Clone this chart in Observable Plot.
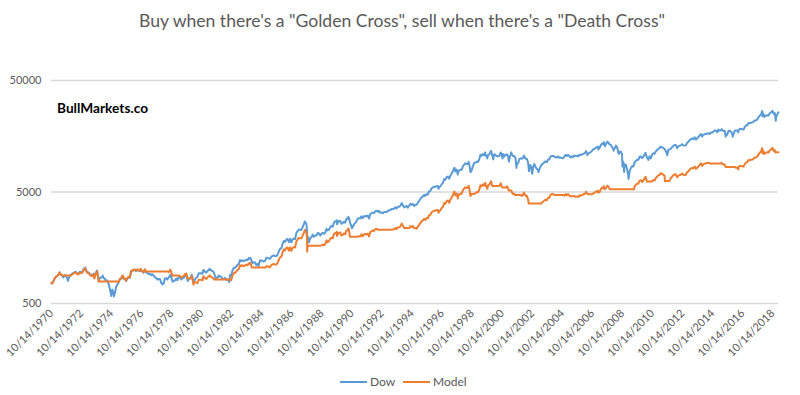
<!DOCTYPE html>
<html>
<head>
<meta charset="utf-8">
<script src="https://cdn.jsdelivr.net/npm/d3@7"></script>
<script src="https://cdn.jsdelivr.net/npm/@observablehq/plot@0.6"></script>
<style>
  html, body { margin: 0; padding: 0; background: #fff; }
  #chart { position: relative; width: 800px; height: 395px; }
</style>
</head>
<body>
<div id="chart"></div>
<script>
// ---------------- DATA ----------------
const titleText = "Buy when there's a \"Golden Cross\", sell when there's a \"Death Cross\"";
const watermark = "BullMarkets.co";
const seriesNames = ["Dow", "Model"];
const seriesColors = ["#5B9BD5", "#ED7D31"];
const yTicks = [500, 5000, 50000];
const yTickLabels = ["500", "5000", "50000"];
const xTickLabels = ["10/14/1970","10/14/1972","10/14/1974","10/14/1976","10/14/1978","10/14/1980",
  "10/14/1982","10/14/1984","10/14/1986","10/14/1988","10/14/1990","10/14/1992","10/14/1994",
  "10/14/1996","10/14/1998","10/14/2000","10/14/2002","10/14/2004","10/14/2006","10/14/2008",
  "10/14/2010","10/14/2012","10/14/2014","10/14/2016","10/14/2018"];
const xDomain = ["1970-10-14", "2019-02-28"];

// Dow: month-end closes [year, first month, values]
const dowMonthEnd = [
  [1970,10,[755,794,839]],
  [1971,1,[869,879,904,942,908,891,858,898,887,839,831,890]],
  [1972,1,[902,928,941,954,961,929,925,964,953,956,1018,1020]],
  [1973,1,[999,955,951,921,901,892,926,888,947,957,822,851]],
  [1974,1,[856,861,847,837,802,802,757,679,608,666,619,616]],
  [1975,1,[704,739,768,821,832,879,832,835,794,836,860,852]],
  [1976,1,[975,973,1000,997,975,1003,985,974,990,965,947,1005]],
  [1977,1,[955,936,919,927,899,916,890,862,847,818,830,831]],
  [1978,1,[770,742,757,837,841,819,862,877,866,793,799,805]],
  [1979,1,[839,809,862,855,822,842,846,888,878,816,822,839]],
  [1980,1,[876,863,786,817,851,868,935,933,932,925,993,964]],
  [1981,1,[947,975,1004,998,992,977,953,882,850,853,889,875]],
  [1982,1,[871,824,823,848,820,812,809,901,896,992,1039,1047]],
  [1983,1,[1076,1113,1130,1226,1200,1222,1199,1216,1233,1225,1276,1259]],
  [1984,1,[1221,1155,1165,1171,1105,1132,1115,1224,1207,1207,1189,1212]],
  [1985,1,[1287,1284,1267,1258,1316,1336,1348,1334,1329,1375,1472,1547]],
  [1986,1,[1571,1710,1819,1784,1877,1893,1775,1898,1768,1878,1914,1896]],
  [1987,1,[2158,2224,2305,2286,2292,2419,2572,2663,2596,1994,1834,1939]],
  [1988,1,[1958,2072,1988,2032,2031,2142,2129,2032,2112,2149,2115,2169]],
  [1989,1,[2342,2258,2294,2419,2480,2440,2661,2737,2693,2645,2748,2753]],
  [1990,1,[2591,2627,2707,2657,2877,2881,2905,2614,2453,2442,2560,2634]],
  [1991,1,[2736,2882,2914,2888,3028,2907,3025,3044,3017,3069,2895,3169]],
  [1992,1,[3223,3268,3236,3359,3397,3319,3394,3257,3272,3226,3305,3301]],
  [1993,1,[3310,3370,3435,3428,3527,3516,3540,3651,3555,3681,3684,3754]],
  [1994,1,[3978,3832,3636,3682,3758,3625,3765,3913,3843,3908,3739,3834]],
  [1995,1,[3844,4011,4158,4321,4465,4556,4709,4611,4789,4756,5075,5117]],
  [1996,1,[5395,5486,5588,5569,5643,5655,5529,5616,5882,6029,6522,6448]],
  [1997,1,[6813,6878,6584,7009,7331,7673,8223,7622,7945,7442,7823,7908]],
  [1998,1,[7907,8546,8800,9063,8900,8952,8883,7539,7843,8592,9117,9181]],
  [1999,1,[9359,9307,9786,10789,10560,10971,10655,10829,10337,10729,10878,11497]],
  [2000,1,[10941,10128,10922,10734,10522,10448,10522,11215,10651,10971,10415,10787]],
  [2001,1,[10887,10495,9879,10735,10912,10502,10523,9950,8848,9075,9852,10022]],
  [2002,1,[9920,10106,10404,9946,9925,9243,8737,8664,7592,8397,8896,8342]],
  [2003,1,[8054,7891,7992,8480,8850,8985,9234,9416,9275,9801,9782,10454]],
  [2004,1,[10488,10584,10358,10226,10188,10435,10140,10174,10080,10027,10428,10783]],
  [2005,1,[10490,10766,10504,10193,10467,10275,10641,10482,10569,10440,10806,10718]],
  [2006,1,[10865,10993,11109,11367,11168,11150,11186,11381,11679,12081,12222,12463]],
  [2007,1,[12622,12269,12354,13063,13628,13409,13212,13358,13896,13930,13372,13265]],
  [2008,1,[12650,12266,12263,12820,12638,11350,11378,11544,10851,9325,8829,8776]],
  [2009,1,[8001,7063,7609,8168,8500,8447,9172,9496,9712,9713,10345,10428]],
  [2010,1,[10067,10325,10857,11009,10137,9774,10466,10015,10788,11118,11006,11578]],
  [2011,1,[11892,12226,12320,12811,12570,12414,12143,11614,10913,11955,12046,12218]],
  [2012,1,[12633,12952,13212,13214,12393,12880,13009,13091,13437,13096,13026,13104]],
  [2013,1,[13861,14054,14579,14840,15116,14910,15500,14810,15130,15546,16086,16577]],
  [2014,1,[15699,16322,16458,16581,16717,16827,16563,17098,17043,17391,17828,17823]],
  [2015,1,[17165,18133,17776,17841,18011,17620,17690,16528,16285,17664,17720,17425]],
  [2016,1,[16466,16517,17685,17774,17787,17930,18432,18401,18308,18142,19124,19763]],
  [2017,1,[19864,20812,20663,20941,21009,21350,21891,21948,22405,23377,24272,24719]],
  [2018,1,[26149,25029,24103,24163,24416,24271,25415,25965,26458,25116,25538,23327]],
  [2019,1,[24999,25916]]
];

// Dow: start and intra-month highs / lows
const dowExtra = [
  ["1970-10-14",765],["1971-04-28",951],["1971-11-23",798],["1973-01-11",1052],["1973-08-22",851],
  ["1973-10-26",988],["1973-12-05",788],["1974-03-13",892],["1974-10-04",585],["1974-12-06",578],
  ["1975-07-15",882],["1976-09-21",1015],["1978-02-28",742],["1978-09-08",907],["1978-11-14",785],
  ["1979-10-05",898],["1979-11-07",796],["1980-02-13",903],["1980-03-27",759],["1980-11-20",1000],
  ["1981-04-27",1024],["1981-09-25",824],["1982-08-12",777],["1984-01-06",1287],["1984-07-24",1087],
  ["1987-08-25",2722],["1987-10-16",2247],["1987-10-19",1739],["1987-12-04",1767],["1989-10-09",2791],
  ["1989-10-13",2569],["1990-07-16",2999],["1990-10-11",2365],["1996-07-16",5346],["1997-08-06",8259],
  ["1997-10-27",7161],["1998-07-17",9338],["1999-08-25",11326],["1999-10-15",10019],["2000-01-14",11723],
  ["2000-03-07",9796],["2000-09-06",11310],["2000-10-18",9975],["2001-03-22",9389],["2001-05-21",11337],
  ["2001-09-21",8236],["2002-03-19",10635],["2002-07-23",7702],["2002-10-09",7286],["2003-03-11",7524],
  ["2006-05-10",11642],["2006-06-13",10706],["2007-02-20",12786],["2007-03-05",12050],["2007-07-19",14000],
  ["2007-08-16",12846],["2007-10-09",14165],["2008-03-10",11740],["2008-05-02",13058],["2008-07-15",10963],
  ["2008-10-10",8451],["2008-11-20",7552],["2009-03-09",6547],["2010-04-26",11205],["2010-07-02",9686],
  ["2011-04-29",12811],["2011-10-03",10655],["2015-05-19",18312],["2015-08-25",15666],["2016-02-11",15660],
  ["2016-06-27",17140],["2018-01-26",26617],["2018-02-08",23860],["2018-03-23",23533],["2018-10-03",26828],
  ["2018-12-24",21792]
];

// Model (golden cross / death cross strategy equity)
const modelPoints = [
  ["1970-10-14",765],["1970-10-31",755],["1970-11-30",794],["1970-12-31",839],
  ["1971-01-31",869],["1971-02-28",879],["1971-03-31",904],["1971-04-28",950],["1971-04-30",942],["1971-05-31",908],["1971-06-30",891],["1971-07-20",890],
  ["1972-01-20",890],["1972-01-31",888],["1972-02-28",914],["1972-03-31",927],["1972-04-30",940],["1972-05-31",947],["1972-06-30",915],["1972-07-31",911],["1972-08-31",950],["1972-09-30",939],["1972-10-31",942],["1972-11-30",1003],["1972-12-31",1005],
  ["1973-01-11",1036],["1973-01-31",984],["1973-02-28",941],["1973-03-31",937],["1973-04-30",907],["1973-05-31",888],["1973-06-30",879],["1973-07-31",912],["1973-08-22",838],["1973-08-31",875],["1973-09-30",933],["1973-10-26",973],["1973-10-31",943],["1973-11-30",810],["1973-12-04",787],
  ["1975-03-10",787],["1975-03-31",776],["1975-04-30",829],["1975-05-31",840],["1975-06-30",888],["1975-07-15",891],["1975-07-31",840],["1975-08-31",843],["1975-09-30",802],["1975-10-31",844],["1975-11-30",869],["1975-12-31",860],
  ["1976-01-31",985],["1976-02-28",983],["1976-03-31",1010],["1976-04-30",1007],["1976-05-31",985],["1976-06-30",1013],["1976-07-31",995],["1976-08-31",984],["1976-09-21",1025],["1976-09-30",1000],["1976-10-31",975],["1976-11-30",956],["1976-12-31",1015],
  ["1977-01-25",968],
  ["1978-07-20",968],["1978-07-31",959],["1978-08-31",976],["1978-09-08",1009],["1978-09-30",964],["1978-10-31",883],["1978-11-10",890],
  ["1979-04-01",890],["1979-04-30",885],["1979-05-31",851],["1979-06-30",871],["1979-07-31",876],["1979-08-31",919],["1979-09-30",909],["1979-10-05",929],["1979-10-31",845],["1979-11-05",840],
  ["1980-01-10",840],["1980-01-31",851],["1980-02-13",877],["1980-02-28",838],["1980-03-27",737],["1980-03-31",763],["1980-04-10",770],
  ["1980-06-20",770],["1980-06-30",760],["1980-07-31",818],["1980-08-31",816],["1980-09-30",816],["1980-10-31",809],["1980-11-20",875],["1980-11-30",869],["1980-12-31",844],
  ["1981-01-31",829],["1981-02-28",853],["1981-03-31",879],["1981-04-27",896],["1981-04-30",873],["1981-05-31",868],["1981-06-30",855],["1981-07-31",834],["1981-08-10",820],
  ["1982-09-01",820],["1982-09-30",807],["1982-10-31",894],["1982-11-30",936],["1982-12-31",943],
  ["1983-01-31",969],["1983-02-28",1003],["1983-03-31",1018],["1983-04-30",1105],["1983-05-31",1081],["1983-06-30",1101],["1983-07-31",1080],["1983-08-31",1096],["1983-09-30",1111],["1983-10-31",1104],["1983-11-30",1150],["1983-12-31",1134],
  ["1984-01-06",1160],["1984-01-31",1100],["1984-02-10",1050],
  ["1985-01-10",1050],["1985-01-31",1081],["1985-02-28",1079],["1985-03-31",1064],["1985-04-30",1057],["1985-05-31",1105],["1985-06-30",1122],["1985-07-31",1132],["1985-08-31",1121],["1985-09-30",1116],["1985-10-31",1155],["1985-11-30",1236],["1985-12-31",1299],
  ["1986-01-31",1320],["1986-02-28",1436],["1986-03-31",1528],["1986-04-30",1499],["1986-05-31",1577],["1986-06-30",1590],["1986-07-31",1491],["1986-08-31",1594],["1986-09-30",1485],["1986-10-31",1578],["1986-11-30",1608],["1986-12-31",1593],
  ["1987-01-31",1813],["1987-02-28",1868],["1987-03-31",1936],["1987-04-30",1920],["1987-05-31",1925],["1987-06-30",2032],["1987-07-31",2160],["1987-08-25",2286],["1987-08-31",2237],["1987-09-30",2181],["1987-10-16",1887],["1987-10-19",1461],["1987-10-30",1675],["1987-11-03",1650],
  ["1988-09-01",1650],["1988-09-30",1660],["1988-10-31",1689],["1988-11-30",1662],["1988-12-31",1705],
  ["1989-01-31",1841],["1989-02-28",1775],["1989-03-31",1803],["1989-04-30",1901],["1989-05-31",1949],["1989-06-30",1918],["1989-07-31",2092],["1989-08-31",2151],["1989-09-30",2117],["1989-10-09",2194],["1989-10-13",2019],["1989-10-31",2079],["1989-11-30",2160],["1989-12-31",2164],
  ["1990-01-31",2037],["1990-02-28",2065],["1990-03-31",2128],["1990-04-30",2088],["1990-05-31",2261],["1990-06-30",2264],["1990-07-16",2357],["1990-07-31",2283],["1990-08-20",1989],
  ["1991-02-28",1989],["1991-03-31",2011],["1991-04-30",1993],["1991-05-31",2089],["1991-06-30",2006],["1991-07-31",2087],["1991-08-31",2100],["1991-09-30",2082],["1991-10-31",2118],["1991-11-30",1998],["1991-12-31",2187],
  ["1992-01-31",2224],["1992-02-28",2255],["1992-03-31",2233],["1992-04-30",2318],["1992-05-31",2344],["1992-06-30",2290],["1992-07-01",2290],
  ["1993-05-20",2290],["1993-05-31",2307],["1993-06-30",2300],["1993-07-31",2315],["1993-08-31",2388],["1993-09-30",2325],["1993-10-31",2407],["1993-11-30",2409],["1993-12-31",2455],
  ["1994-01-31",2602],["1994-02-28",2506],["1994-03-31",2378],["1994-04-05",2378],
  ["1994-08-10",2378],["1994-08-31",2473],["1994-09-30",2429],["1994-10-31",2470],["1994-11-30",2363],["1994-12-01",2363],
  ["1995-01-20",2363],["1995-01-31",2345],["1995-02-28",2447],["1995-03-31",2536],["1995-04-30",2636],["1995-05-31",2724],["1995-06-30",2779],["1995-07-31",2872],["1995-08-31",2813],["1995-09-30",2921],["1995-10-31",2901],["1995-11-30",3096],["1995-12-31",3121],
  ["1996-01-31",3291],["1996-02-28",3346],["1996-03-31",3409],["1996-04-30",3397],["1996-05-31",3442],["1996-06-30",3450],["1996-07-16",3261],["1996-07-31",3373],["1996-08-31",3426],["1996-09-30",3588],["1996-10-31",3678],["1996-11-30",3978],["1996-12-31",3933],
  ["1997-01-31",4156],["1997-02-28",4196],["1997-03-31",4016],["1997-04-30",4275],["1997-05-31",4472],["1997-06-30",4681],["1997-07-31",5016],["1997-08-06",5038],["1997-08-31",4649],["1997-09-30",4846],["1997-10-27",4368],["1997-10-31",4540],["1997-11-30",4772],["1997-12-31",4824],
  ["1998-01-31",4823],["1998-02-28",5213],["1998-03-31",5368],["1998-04-30",5528],["1998-05-31",5429],["1998-06-30",5461],["1998-07-17",5696],["1998-07-31",5419],["1998-08-31",4599],["1998-09-20",4800],
  ["1998-12-01",4800],["1998-12-31",4894],
  ["1999-01-31",4988],["1999-02-28",4961],["1999-03-31",5216],["1999-04-30",5751],["1999-05-31",5628],["1999-06-30",5848],["1999-07-31",5679],["1999-08-25",6037],["1999-08-31",5772],["1999-09-30",5510],["1999-10-15",5340],["1999-10-31",5719],["1999-11-30",5798],["1999-12-31",6128],
  ["2000-01-14",6248],["2000-01-31",5832],["2000-02-10",5650],
  ["2000-08-01",5650],["2000-08-31",5922],["2000-09-06",5972],["2000-09-30",5624],["2000-10-10",5480],
  ["2001-01-20",5480],["2001-01-31",5629],["2001-02-28",5426],["2001-03-12",5170],
  ["2001-05-20",5170],["2001-05-31",4992],["2001-06-30",4805],["2001-07-31",4814],["2001-08-15",4700],
  ["2002-01-10",4700],["2002-01-31",4616],["2002-02-28",4702],["2002-03-19",4948],["2002-03-31",4841],["2002-04-30",4628],["2002-05-31",4618],["2002-06-30",4301],["2002-07-10",4100],["2002-07-15",3950],
  ["2003-05-20",3950],["2003-05-31",4018],["2003-06-30",4079],["2003-07-31",4192],["2003-08-31",4275],["2003-09-30",4211],["2003-10-31",4450],["2003-11-30",4441],["2003-12-31",4746],
  ["2004-01-31",4762],["2004-02-28",4805],["2004-03-31",4703],["2004-04-10",4690],
  ["2004-11-15",4690],["2004-11-30",4635],["2004-12-31",4793],
  ["2005-01-31",4663],["2005-02-28",4785],["2005-03-31",4669],["2005-04-10",4580],
  ["2005-07-15",4580],["2005-07-31",4597],["2005-08-31",4528],["2005-09-30",4566],["2005-10-31",4510],["2005-11-30",4668],["2005-12-31",4630],
  ["2006-01-31",4694],["2006-02-28",4749],["2006-03-31",4799],["2006-04-30",4911],["2006-05-10",5029],["2006-05-31",4825],["2006-06-30",4817],["2006-07-10",4770],
  ["2006-10-05",4770],["2006-10-31",4863],["2006-11-30",4919],["2006-12-31",5016],
  ["2007-01-31",5080],["2007-02-20",5146],["2007-02-28",4938],["2007-03-31",4972],["2007-04-30",5258],["2007-05-31",5485],["2007-06-30",5397],["2007-07-19",5635],["2007-07-31",5318],["2007-08-31",5377],["2007-09-30",5593],["2007-10-09",5701],["2007-10-31",5607],["2007-11-30",5382],["2007-12-05",5280],
  ["2009-07-20",5280],["2009-07-31",5604],["2009-08-31",5802],["2009-09-30",5934],["2009-10-31",5935],["2009-11-30",6321],["2009-12-31",6372],
  ["2010-01-31",6151],["2010-02-28",6309],["2010-03-31",6634],["2010-04-26",6846],["2010-04-30",6727],["2010-05-31",6194],["2010-06-10",6200],
  ["2010-09-20",6200],["2010-09-30",6221],["2010-10-31",6412],["2010-11-30",6347],["2010-12-31",6677],
  ["2011-01-31",6858],["2011-02-28",7051],["2011-03-31",7105],["2011-04-29",7388],["2011-05-31",7249],["2011-06-30",7159],["2011-07-31",7003],["2011-08-08",6234],["2011-08-12",6260],
  ["2011-11-25",6260],["2011-12-31",6659],
  ["2012-01-31",6885],["2012-02-29",7059],["2012-03-31",7201],["2012-04-30",7202],["2012-05-31",6754],["2012-06-30",7020],["2012-07-31",7090],["2012-08-31",7135],["2012-09-30",7323],["2012-10-31",7137],["2012-11-30",7099],["2012-12-31",7142],
  ["2013-01-31",7554],["2013-02-28",7659],["2013-03-31",7946],["2013-04-30",8088],["2013-05-31",8238],["2013-06-30",8126],["2013-07-31",8448],["2013-08-31",8071],["2013-09-30",8246],["2013-10-31",8473],["2013-11-30",8767],["2013-12-31",9034],
  ["2014-01-31",8556],["2014-02-28",8895],["2014-03-31",8970],["2014-04-30",9037],["2014-05-31",9111],["2014-06-30",9171],["2014-07-31",9027],["2014-08-05",9000],
  ["2015-05-01",9000],["2015-05-19",9156],["2015-05-31",9006],["2015-06-30",8810],["2015-07-31",8845],["2015-08-21",8400],
  ["2016-04-20",8400],["2016-04-30",8265],["2016-05-31",8271],["2016-06-27",7970],["2016-06-30",8337],["2016-07-31",8571],["2016-08-31",8556],["2016-09-30",8513],["2016-10-31",8436],["2016-11-30",8893],["2016-12-31",9190],
  ["2017-01-31",9237],["2017-02-28",9678],["2017-03-31",9608],["2017-04-30",9738],["2017-05-31",9769],["2017-06-30",9928],["2017-07-31",10179],["2017-08-31",10206],["2017-09-30",10418],["2017-10-31",10870],["2017-11-30",11286],["2017-12-31",11494],
  ["2018-01-26",12377],["2018-01-31",12159],["2018-02-08",11095],["2018-02-28",11638],["2018-03-23",10943],["2018-03-31",11208],["2018-04-30",11236],["2018-05-31",11353],["2018-06-30",11286],["2018-07-31",11818],["2018-08-31",12074],["2018-09-30",12303],["2018-10-03",12475],["2018-10-31",11679],["2018-11-30",11875],["2018-12-07",11341],["2019-02-28",11341]
];

// ---------------- BUILD TABLES ----------------
const dow = [];
for (const [year, m0, vals] of dowMonthEnd) {
  vals.forEach((v, i) => dow.push({date: new Date(Date.UTC(year, m0 + i, 0)), value: v}));
}
for (const [d, v] of dowExtra) dow.push({date: new Date(d), value: v});
dow.sort((a, b) => a.date - b.date);
const model = modelPoints.map(([d, v]) => ({date: new Date(d), value: v}));

const parseLabel = d3.utcParse("%m/%d/%Y");
const xTicks = xTickLabels.map(parseLabel);
const labelOf = new Map(xTicks.map((d, i) => [+d, xTickLabels[i]]));
const yLabelData = yTicks.map((v, i) => ({value: v, label: yTickLabels[i]}));

const FONT = "Lato, 'Open Sans', 'Liberation Sans', sans-serif";
const GREY = "#595959";

const svgNode = Plot.plot({
  width: 800,
  height: 395,
  marginTop: 80,
  marginBottom: 92,
  marginLeft: 51,
  marginRight: 22,
  style: {fontFamily: FONT, fontSize: "11px", color: GREY, background: "#fff", overflow: "visible"},
  x: {type: "utc", domain: xDomain.map(d => new Date(d))},
  y: {type: "log", domain: [yTicks[0], yTicks[yTicks.length - 1]], axis: null},
  marks: [
    Plot.gridY(yTicks, {stroke: "#d9d9d9", strokeOpacity: 1, strokeWidth: 1.3}),
    Plot.text(yLabelData, {y: "value", text: "label", frameAnchor: "left", dx: -10, textAnchor: "end", fontSize: 11, fill: GREY}),
    Plot.axisX(xTicks, {tickSize: 0, tickPadding: 8, tickRotate: -45, tickFormat: d => labelOf.get(+d), label: null, fontSize: 11, fill: GREY}),
    Plot.line(dow, {x: "date", y: "value", stroke: seriesColors[0], strokeWidth: 2, strokeLinejoin: "round"}),
    Plot.line(model, {x: "date", y: "value", stroke: seriesColors[1], strokeWidth: 2, strokeLinejoin: "round"})
  ]
});
document.getElementById("chart").append(svgNode);

// ---------------- TITLE, WATERMARK, LEGEND ----------------
const svg = d3.select(svgNode);
function fitText(sel, target) {
  const w = sel.node().getComputedTextLength();
  if (w > 0) {
    const fs = parseFloat(sel.attr("font-size"));
    sel.attr("font-size", (fs * target / w).toFixed(2));
  }
}
const title = svg.append("text")
  .attr("x", 402).attr("y", 27)
  .attr("text-anchor", "middle")
  .attr("font-family", FONT).attr("font-size", 18.7)
  .attr("fill", GREY)
  .text(titleText);
fitText(title, 526);

const wm = svg.append("text")
  .attr("x", 57).attr("y", 113)
  .attr("text-anchor", "start")
  .attr("font-family", FONT).attr("font-size", 14.7).attr("font-weight", "bold")
  .attr("fill", "#000")
  .text(watermark);
fitText(wm, 91);

const legend = svg.append("g")
  .attr("font-family", FONT).attr("font-size", 12).attr("fill", GREY)
  .attr("text-anchor", "start");
const legendX = [340, 403];
seriesNames.forEach((name, i) => {
  legend.append("line")
    .attr("x1", legendX[i]).attr("x2", legendX[i] + 27)
    .attr("y1", 382).attr("y2", 382)
    .attr("stroke", seriesColors[i]).attr("stroke-width", 2);
  legend.append("text")
    .attr("x", legendX[i] + 30).attr("y", 386)
    .attr("text-anchor", "start")
    .text(name);
});
</script>
</body>
</html>
